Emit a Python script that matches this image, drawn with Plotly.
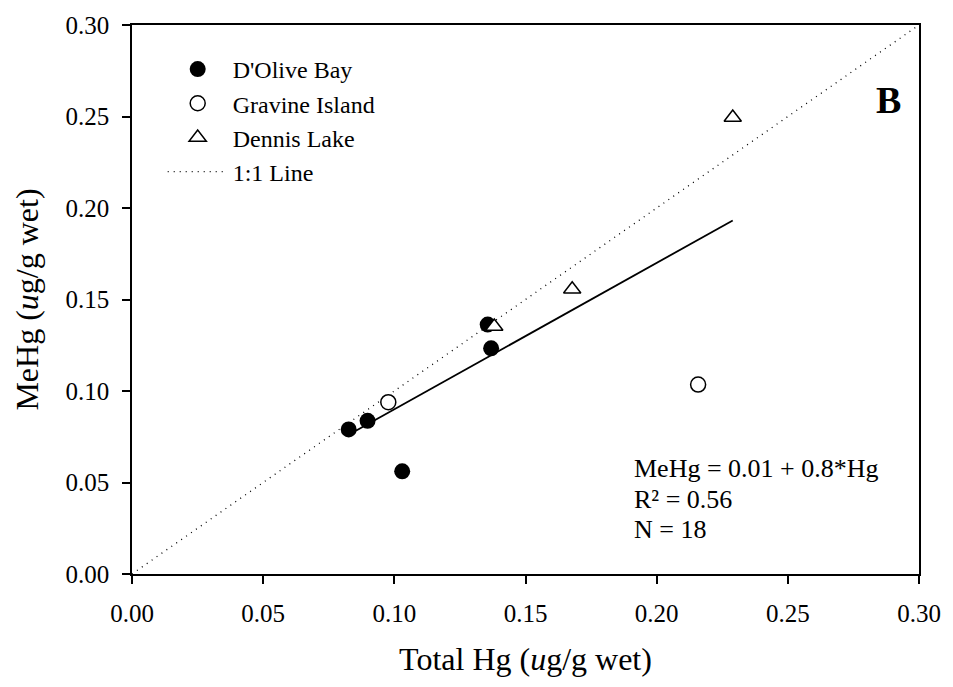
import plotly.graph_objects as go

# Sample values (ug/g wet) by site
dolive_hg = [0.0826, 0.0898, 0.1030, 0.1356, 0.1369]
dolive_mehg = [0.0790, 0.0837, 0.0561, 0.1363, 0.1233]
gravine_hg = [0.0977, 0.2158]
gravine_mehg = [0.0939, 0.1035]
dennis_hg = [0.1381, 0.1678, 0.2290]
dennis_mehg = [0.1352, 0.1556, 0.2495]

# Regression fit: MeHg = 0.01 + 0.8*Hg
fit_intercept = 0.01
fit_slope = 0.8
fit_r2 = 0.56
fit_n = 18

one_to_one = [0.0, 0.30]
tick_vals = [0.00, 0.05, 0.10, 0.15, 0.20, 0.25, 0.30]

FONT = "Liberation Serif"

all_hg = dolive_hg + gravine_hg + dennis_hg
fit_x = [min(all_hg), max(all_hg)]
fit_y = [fit_intercept + fit_slope * v for v in fit_x]

fig = go.Figure()

fig.add_trace(go.Scatter(
    x=one_to_one, y=one_to_one, mode="lines", name="1:1 Line",
    line=dict(color="black", width=1.3, dash="1px,5px"),
    legendrank=4,
))
fig.add_trace(go.Scatter(
    x=fit_x, y=fit_y, mode="lines", showlegend=False,
    line=dict(color="black", width=1.8),
))
fig.add_trace(go.Scatter(
    x=dolive_hg, y=dolive_mehg, mode="markers", name="D'Olive Bay",
    marker=dict(symbol="circle", size=16, color="black",
                line=dict(color="black", width=0)),
    legendrank=1,
))
fig.add_trace(go.Scatter(
    x=gravine_hg, y=gravine_mehg, mode="markers", name="Gravine Island",
    marker=dict(symbol="circle", size=15, color="white",
                line=dict(color="black", width=1.5)),
    legendrank=2,
))
fig.add_trace(go.Scatter(
    x=dennis_hg, y=dennis_mehg, mode="markers", name="Dennis Lake",
    marker=dict(symbol="triangle-up", size=15, color="white",
                line=dict(color="black", width=1.5)),
    legendrank=3,
))

axis_common = dict(
    range=[0, 0.30],
    tickvals=tick_vals,
    tickformat=".2f",
    ticks="outside",
    ticklen=8,
    tickwidth=1.5,
    tickcolor="black",
    ticklabelstandoff=8,
    showline=True,
    linecolor="black",
    linewidth=1.5,
    mirror=True,
    showgrid=False,
    zeroline=False,
    tickfont=dict(family=FONT, size=25, color="black"),
)

fig.update_xaxes(
    **axis_common,
    title=dict(text="Total Hg (<i>u</i>g/g wet)",
               font=dict(family=FONT, size=32, color="black"), standoff=22),
)
fig.update_yaxes(
    **axis_common,
    title=dict(text="MeHg (<i>u</i>g/g wet)",
               font=dict(family=FONT, size=32, color="black"), standoff=17),
)

# Fit statistics, one annotation per line
stat_lines = [
    f"MeHg = {fit_intercept:.2f} + {fit_slope:.1f}*Hg",
    f"R² = {fit_r2:.2f}",
    f"N = {fit_n}",
]
stat_y = [0.192, 0.136, 0.081]
for txt, yy in zip(stat_lines, stat_y):
    fig.add_annotation(
        xref="paper", yref="paper", x=0.635, y=yy,
        xanchor="left", yanchor="middle", align="left", showarrow=False,
        text=txt,
        font=dict(family=FONT, size=26, color="black"),
    )

fig.add_annotation(
    xref="paper", yref="paper", x=0.961, y=0.864,
    xanchor="center", yanchor="middle", showarrow=False,
    text="<b>B</b>",
    font=dict(family=FONT, size=38, color="black"),
)

fig.update_layout(
    width=953, height=687,
    margin=dict(l=132, r=29, t=21, b=113),
    paper_bgcolor="white",
    plot_bgcolor="white",
    font=dict(family=FONT, color="black"),
    showlegend=True,
    legend=dict(
        x=0.039, y=0.96, xanchor="left", yanchor="top",
        bgcolor="rgba(0,0,0,0)", borderwidth=0,
        itemwidth=60,
        font=dict(family=FONT, size=24, color="black"),
        tracegroupgap=0,
    ),
)

fig.write_html("out.html")
